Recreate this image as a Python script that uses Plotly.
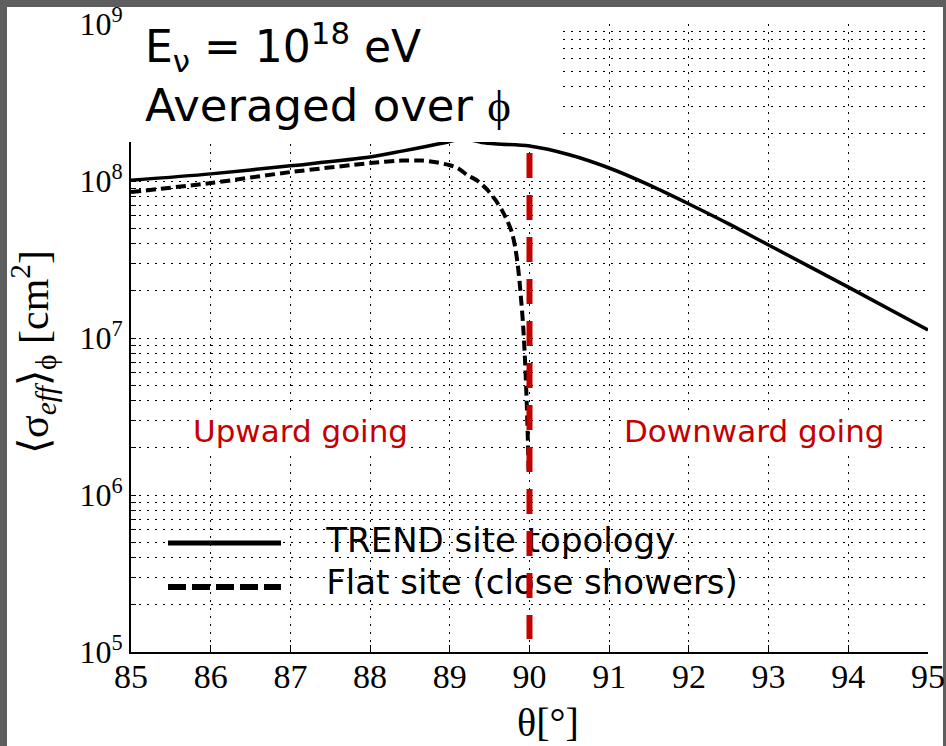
import plotly.graph_objects as go

# Effective cross-section averaged over azimuth, E_nu = 1e18 eV
theta_trend = [85, 86, 87, 88, 88.4, 88.7, 88.95, 89.17, 89.4, 89.6, 90.0, 90.5,
               91.0, 91.5, 92.0, 92.5, 93.0, 94.0, 95.0]
sigma_trend = [1.01e8, 1.11e8, 1.25e8, 1.42e8, 1.55e8, 1.66e8, 1.76e8, 1.86e8, 1.76e8,
               1.72e8, 1.67e8, 1.47e8, 1.21e8, 9.44e7, 7.14e7, 5.33e7, 3.91e7, 2.11e7, 1.125e7]

theta_flat = [85, 86, 87, 88, 88.4, 88.65, 88.85, 89.0, 89.1, 89.22, 89.34, 89.47, 89.57,
              89.655, 89.72, 89.78, 89.82, 89.85, 89.875, 89.895, 89.918, 89.944, 89.965,
              89.98, 89.99]
sigma_flat = [8.5e7, 9.7e7, 1.14e8, 1.30e8, 1.35e8, 1.35e8, 1.31e8, 1.26e8, 1.21e8, 1.09e8,
              1.01e8, 8.8e7, 7.6e7, 6.5e7, 5.6e7, 4.7e7, 3.8e7, 3.0e7, 2.3e7, 1.75e7,
              1.25e7, 7.2e6, 3.9e6, 2.2e6, 1.38e6]

theta_ticks = list(range(85, 96))
decades = [5, 6, 7, 8]
horizon_theta = 90
horizon_span = [1.51e8, 1.21e5]

legend_labels = ["TREND site topology", "Flat site (close showers)"]
legend_anchor_theta = 87.45
legend_anchor_sigma = [4.94e5, 2.67e5]

RED = "#c40000"
SERIF = "Liberation Serif"
SANS = "DejaVu Sans"

W, H = 946, 746
ML, MR, MT, MB = 131, 18, 24, 94
PW, PH = W - ML - MR, H - MT - MB


def px(x):
    return (x - ML) / PW


def py(y):
    return (H - MB - y) / PH


# log-axis ticks: every 1..9 x 10^d gets a gridline, decades get a label
ytickvals, yticktext = [], []
for d in decades:
    for m in range(1, 10):
        ytickvals.append(m * 10 ** d)
        yticktext.append(f"10<sup>{d}</sup>" if m == 1 else "")
ytickvals.append(1e9)
yticktext.append("10<sup>9</sup>")

fig = go.Figure()

fig.add_trace(go.Scatter(x=theta_trend, y=sigma_trend, mode="lines",
                         line=dict(color="black", width=3.5, shape="spline", smoothing=0.8),
                         showlegend=False, hoverinfo="skip"))
fig.add_trace(go.Scatter(x=theta_flat, y=sigma_flat, mode="lines",
                         line=dict(color="black", width=4, dash="10px,5px",
                                   shape="spline", smoothing=0.6),
                         showlegend=False, hoverinfo="skip"))

for label, s in zip(legend_labels, legend_anchor_sigma):
    fig.add_trace(go.Scatter(x=[legend_anchor_theta], y=[s], mode="text", text=[label],
                             textposition="middle right",
                             textfont=dict(family=SANS, size=34, color="black"),
                             showlegend=False, hoverinfo="skip"))

fig.add_trace(go.Scatter(x=[horizon_theta, horizon_theta], y=horizon_span, mode="lines",
                         line=dict(color=RED, width=6, dash="25px,17px"),
                         showlegend=False, hoverinfo="skip"))

shapes = [
    # white page inside the dark frame
    dict(type="rect", xref="paper", yref="paper", layer="below",
         x0=px(7), x1=px(943), y0=py(760), y1=py(7),
         fillcolor="white", line=dict(width=0)),
    # backing behind the legend block
    dict(type="rect", xref="paper", yref="paper", layer="between",
         x0=px(303), x1=px(766), y0=py(615), y1=py(506),
         fillcolor="white", line=dict(width=0)),
    # backing behind the title block
    dict(type="rect", xref="paper", yref="paper", layer="above",
         x0=px(128), x1=px(563), y0=py(142), y1=py(12),
         fillcolor="white", line=dict(width=0)),
    # legend samples
    dict(type="line", xref="paper", yref="paper", layer="above",
         x0=px(168), x1=px(281), y0=py(543), y1=py(543),
         line=dict(color="black", width=5)),
    dict(type="line", xref="paper", yref="paper", layer="above",
         x0=px(168), x1=px(281), y0=py(587), y1=py(587),
         line=dict(color="black", width=6, dash="18px,6px")),
]

annotations = [
    dict(text="E<sub>ν</sub> = 10<sup>18</sup> eV", x=px(143), y=py(47),
         xanchor="left", yanchor="middle", font=dict(family=SANS, size=44, color="black")),
    dict(text="Averaged over <span style='font-family:Liberation Serif'>ϕ</span>",
         x=px(143), y=py(105), xanchor="left", yanchor="middle",
         font=dict(family=SANS, size=45, color="black")),
    dict(text="Upward going", x=px(300), y=py(431), xanchor="center", yanchor="middle",
         font=dict(family=SANS, size=31, color=RED), bgcolor="white", borderpad=1),
    dict(text="Downward going", x=px(754), y=py(431), xanchor="center", yanchor="middle",
         font=dict(family=SANS, size=31, color=RED), bgcolor="white", borderpad=1),
    dict(text="⟨σ<sub><i>eff</i></sub>⟩<sub>ϕ</sub> [cm<sup>2</sup>]", textangle=-90,
         x=px(33), y=py(352), xanchor="center", yanchor="middle",
         font=dict(family=SERIF, size=42, color="black")),
    dict(text="θ[°]", x=px(548), y=py(722), xanchor="center", yanchor="middle",
         font=dict(family=SERIF, size=40, color="black")),
]
for a in annotations:
    a.update(xref="paper", yref="paper", showarrow=False)

grid = dict(showgrid=True, gridcolor="black", gridwidth=1, griddash="2px,6px")

fig.update_layout(
    width=W, height=H,
    margin=dict(l=ML, r=MR, t=MT, b=MB, pad=0, autoexpand=False),
    paper_bgcolor="#5e5e5e", plot_bgcolor="white",
    showlegend=False,
    shapes=shapes, annotations=annotations,
    xaxis=dict(range=[85, 95], tickmode="array", tickvals=theta_ticks,
               ticks="inside", ticklen=7, tickwidth=1, tickcolor="black",
               showline=True, linecolor="black", linewidth=2, zeroline=False,
               automargin=False, ticklabelstandoff=-7,
               tickfont=dict(family=SERIF, size=34, color="black"), **grid),
    yaxis=dict(type="log", range=[5, 9], tickmode="array", tickvals=ytickvals,
               ticktext=yticktext, ticks="inside", ticklen=5, tickwidth=1,
               tickcolor="black", showline=True, linecolor="black", linewidth=2,
               zeroline=False, automargin=False,
               tickfont=dict(family=SERIF, size=32, color="black"), **grid),
)

fig.write_html("out.html", config={"responsive": False})
